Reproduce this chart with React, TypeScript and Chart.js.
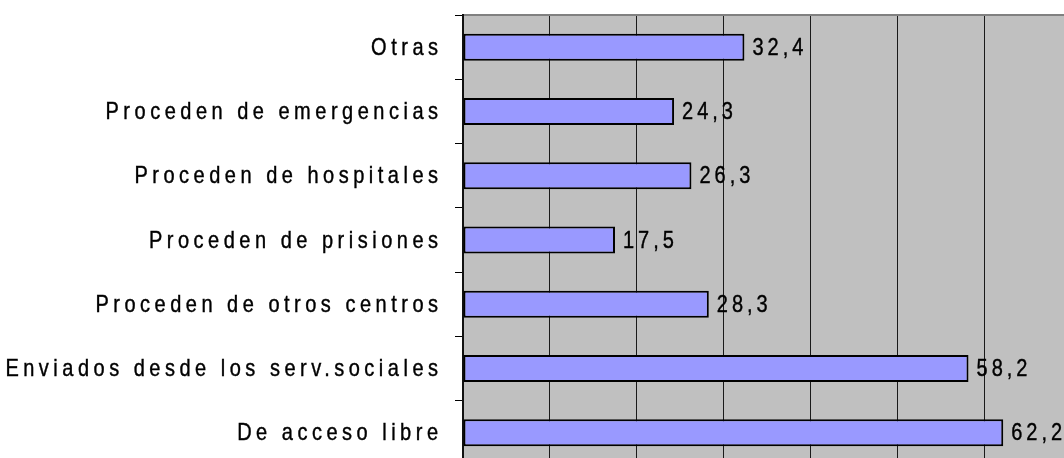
import React, { useEffect, useRef } from "react";
import { Chart, registerables } from "chart.js";

Chart.register(...registerables);

const categories: string[] = [
  "Otras",
  "Proceden de emergencias",
  "Proceden de hospitales",
  "Proceden de prisiones",
  "Proceden de otros centros",
  "Enviados desde los serv.sociales",
  "De acceso libre",
];

const values: number[] = [32.4, 24.3, 26.3, 17.5, 28.3, 58.2, 62.2];

const xMin = 0;
const xMax = 70;
const xStep = 10;

const FONT = '"Liberation Sans", Arial, sans-serif';
const STRETCH = 1.2;

const bgPlugin = {
  id: "bg",
  beforeDraw(chart: any) {
    const { ctx, chartArea } = chart;
    ctx.save();
    ctx.fillStyle = "#C0C0C0";
    ctx.fillRect(chartArea.left, chartArea.top, chartArea.right - chartArea.left, chartArea.bottom - chartArea.top);
    ctx.restore();
  },
};

function drawText(ctx: any, txt: string, x: number, y: number, align: string, spacing: number) {
  ctx.save();
  ctx.translate(x, y);
  ctx.scale(1, STRETCH);
  ctx.letterSpacing = `${spacing}px`;
  ctx.font = `20px ${FONT}`;
  ctx.fillStyle = "#000";
  ctx.strokeStyle = "#000";
  ctx.lineWidth = 0.35;
  ctx.textAlign = align;
  ctx.textBaseline = "middle";
  ctx.fillText(txt, 0, 0);
  ctx.strokeText(txt, 0, 0);
  ctx.restore();
}

const labelPlugin = {
  id: "texts",
  afterDatasetsDraw(chart: any) {
    const { ctx } = chart;
    const yScale = chart.scales.y;
    categories.forEach((c, i) => {
      drawText(ctx, c, yScale.right - 20.5, yScale.getPixelForTick(i) + 1, "right", 4.5);
    });
    const meta = chart.getDatasetMeta(0);
    meta.data.forEach((bar: any, i: number) => {
      const txt = values[i].toFixed(1).replace(".", ",");
      drawText(ctx, txt, bar.x + 8, bar.y + 1, "left", 4);
    });
  },
};

export default function App() {
  const ref = useRef<HTMLCanvasElement>(null);
  useEffect(() => {
    if (!ref.current) return;
    const chart = new Chart(ref.current, {
      type: "bar",
      data: {
        labels: categories,
        datasets: [
          {
            data: values,
            backgroundColor: "#9999FF",
            borderColor: "#000000",
            borderWidth: 2,
            borderSkipped: false,
            categoryPercentage: 1,
            barPercentage: 0.42,
          },
        ],
      },
      options: {
        indexAxis: "y",
        animation: false,
        responsive: false,
        devicePixelRatio: 1,
        layout: { padding: { top: 15, right: 9, bottom: 15, left: 0 } },
        plugins: { legend: { display: false }, tooltip: { enabled: false } },
        scales: {
          x: {
            position: "top",
            min: xMin,
            max: xMax,
            afterFit(scale: any) {
              scale.height = 0;
              scale.paddingLeft = 0;
              scale.paddingRight = 0;
            },
            ticks: { display: false, stepSize: xStep },
            grid: { color: "#1a1a1a", lineWidth: 1, drawTicks: false },
            border: { display: true, color: "#808080", width: 2 },
          },
          y: {
            afterFit(scale: any) {
              scale.width = 463;
              scale.paddingTop = 0;
              scale.paddingBottom = 0;
            },
            ticks: { display: false },
            grid: {
              offset: true,
              drawOnChartArea: false,
              drawTicks: true,
              tickLength: 8,
              tickColor: "#000",
              lineWidth: 1,
            },
            border: { display: true, color: "#111", width: 2 },
          },
        },
      },
      plugins: [bgPlugin, labelPlugin],
    });
    return () => chart.destroy();
  }, []);
  return (
    <div style={{ position: "fixed", left: 0, top: 0, width: 1064, height: 458, overflow: "hidden", background: "#fff" }}>
      <canvas ref={ref} width={1080} height={480} style={{ display: "block" }} />
    </div>
  );
}
